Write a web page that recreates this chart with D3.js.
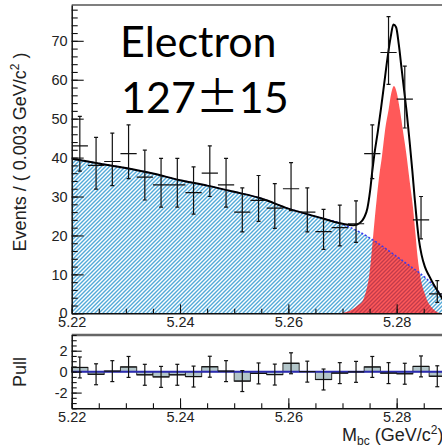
<!DOCTYPE html>
<html>
<head>
<meta charset="utf-8">
<script src="https://cdn.jsdelivr.net/npm/d3@7"></script>
<style>
  body { margin: 0; background: #fff; }
</style>
</head>
<body>
<script>
// Binned data: 23 bins of 0.003 GeV starting at 5.22
const binStart = 5.22;
const binWidth = 0.003;
const counts = [43, 38, 39, 41, 35, 33, 33, 31, 36, 33, 26, 29, 27, 32, 26, 21, 22, 23, 41, 67, 55, 24, 5];
const errLo = [6.5, 6.1, 6.2, 6.4, 5.9, 5.7, 5.7, 5.5, 6.0, 5.7, 5.1, 5.4, 5.2, 5.6, 5.1, 4.6, 4.7, 4.8, 6.4, 8.2, 7.4, 4.9, 2.2];
const errHi = [7.6, 7.2, 7.3, 7.4, 6.9, 6.8, 6.8, 6.6, 7.0, 6.8, 6.2, 6.4, 6.3, 6.7, 6.2, 5.7, 5.8, 5.9, 7.4, 9.2, 8.5, 6.0, 3.4];
const pulls = [0.4, -0.25, 0.05, 0.45, -0.3, -0.5, -0.3, -0.47, 0.47, 0.05, -0.9, -0.17, -0.28, 0.8, 0.0, -0.75, -0.14, -0.02, 0.45, -0.14, -0.2, 0.5, -0.44];

// Fit curves (mass, events)
const bkgM = [5.2200, 5.2250, 5.2300, 5.2350, 5.2400, 5.2450, 5.2500, 5.2550, 5.2600, 5.2650, 5.2700, 5.2730, 5.2760, 5.2790, 5.2820, 5.2840, 5.2855, 5.2867, 5.2877, 5.2884, 5.2888, 5.2890];
const bkgV = [39.7, 38.5, 37.3, 35.9, 34.2, 32.8, 31.2, 29.5, 26.9, 24.9, 22.9, 21.0, 18.5, 15.6, 12.6, 10.6, 8.9, 7.3, 5.6, 4.0, 2.3, 0];

const sigM = [5.2690, 5.2705, 5.2718, 5.2728, 5.2738, 5.2745, 5.2748, 5.2752, 5.2757, 5.2763, 5.2768, 5.2773, 5.2779, 5.2785, 5.2790, 5.2795, 5.2800, 5.2806, 5.2812, 5.2818, 5.2824, 5.2830, 5.2835, 5.2839, 5.2843, 5.2847, 5.2852, 5.2856, 5.2863, 5.2870, 5.2876, 5.2882];
const sigV = [0, 0.3, 1.0, 2.0, 3.4, 6.5, 8.5, 13.0, 20.5, 29.2, 35.5, 40.5, 47.5, 52.2, 56.5, 58.4, 56.8, 52.2, 46.5, 40.8, 34.0, 27.4, 20.0, 14.0, 10.0, 7.2, 5.0, 3.4, 1.8, 0.8, 0.2, 0];

const totM = [5.2200, 5.2250, 5.2300, 5.2350, 5.2400, 5.2450, 5.2500, 5.2550, 5.2600, 5.2650, 5.2700, 5.2720, 5.2732, 5.2740, 5.2746, 5.2751, 5.2755, 5.2759, 5.2765, 5.2771, 5.2777, 5.2783, 5.2789, 5.2794, 5.2799, 5.2804, 5.2809, 5.2814, 5.2819, 5.2824, 5.2829, 5.2833, 5.2837, 5.2841, 5.2846, 5.2852, 5.2860, 5.2870, 5.2878, 5.2884, 5.2888, 5.2890];
const totV = [39.7, 38.5, 37.3, 35.9, 34.2, 32.8, 31.2, 29.5, 26.9, 24.9, 23.0, 22.6, 23.2, 24.6, 27.0, 31.5, 36.5, 41.0, 46.5, 52.5, 59.0, 65.5, 71.0, 74.2, 73.5, 69.0, 63.0, 57.0, 51.0, 44.0, 36.5, 30.0, 24.0, 19.0, 15.0, 12.0, 9.6, 7.0, 5.2, 3.8, 2.2, 0];

// Axis ticks
const xTicks = [5.22, 5.24, 5.26, 5.28];
const xMinor = d3.range(5.22, 5.2891, 0.005);
const yTicks = [0, 10, 20, 30, 40, 50, 60, 70];
const yMinor = d3.range(0, 79, 2);
const pullTicks = [-2, 0, 2];
const pullMinor = d3.range(-3.5, 3.51, 0.5);

const width = 442;
const height = 448;
const left = 71.7;
const right = 445.4;
const top1 = 5, bottom1 = 313.3;
const top2 = 335, bottom2 = 408.3;

const svg = d3.select("body").append("svg")
  .attr("width", width)
  .attr("height", height)
  .style("font-family", "'Liberation Sans', Arial, sans-serif");

const x = d3.scaleLinear().domain([5.22, 5.289]).range([left, right]);
const y = d3.scaleLinear().domain([0, 79.2]).range([bottom1, top1]);
const yp = d3.scaleLinear().domain([-3.5, 3.5]).range([bottom2, top2]);

const defs = svg.append("defs");
const pat = defs.append("pattern")
  .attr("id", "hatch")
  .attr("patternUnits", "userSpaceOnUse")
  .attr("width", 4)
  .attr("height", 4);
pat.append("path")
  .attr("d", "M0,4 L4,0 M-1,1 L1,-1 M3,5 L5,3")
  .attr("stroke", "#52a9d8")
  .attr("stroke-width", 1.4);

defs.append("clipPath").attr("id", "clipTop")
  .append("rect")
  .attr("x", left).attr("y", top1)
  .attr("width", right - left).attr("height", bottom1 - top1);

const pts = (ms, vs) => ms.map((m, i) => [m, vs[i]]);
const centers = counts.map((c, i) => binStart + binWidth * (i + 0.5));

// ---- top panel ----
const plot = svg.append("g").attr("clip-path", "url(#clipTop)");

const area = d3.area()
  .x(d => x(d[0]))
  .y0(y(0))
  .y1(d => y(d[1]))
  .curve(d3.curveMonotoneX);
const line = d3.line()
  .x(d => x(d[0]))
  .y(d => y(d[1]))
  .curve(d3.curveMonotoneX);

plot.append("path")
  .attr("d", area(pts(bkgM, bkgV)))
  .attr("fill", "url(#hatch)");

plot.append("path")
  .attr("d", area(pts(sigM, sigV)))
  .attr("fill", "rgba(255,0,0,0.65)");

plot.append("path")
  .attr("d", line(pts(bkgM, bkgV)))
  .attr("fill", "none")
  .attr("stroke", "#3a3af0")
  .attr("stroke-width", 1.5)
  .attr("stroke-dasharray", "2,2");

plot.append("path")
  .attr("d", line(pts(totM, totV)))
  .attr("fill", "none")
  .attr("stroke", "#000")
  .attr("stroke-width", 2);

// data points
const dp = plot.append("g").attr("stroke", "#111").attr("stroke-width", 1.2);
counts.forEach((c, i) => {
  const cx = x(centers[i]);
  const x0 = x(centers[i] - binWidth / 2), x1 = x(centers[i] + binWidth / 2);
  const yc = y(c), yl = y(c - errLo[i]), yh = y(c + errHi[i]);
  dp.append("line").attr("x1", x0).attr("x2", x1).attr("y1", yc).attr("y2", yc);
  dp.append("line").attr("x1", cx).attr("x2", cx).attr("y1", yl).attr("y2", yh);
  dp.append("line").attr("x1", cx - 2).attr("x2", cx + 2).attr("y1", yl).attr("y2", yl);
  dp.append("line").attr("x1", cx - 2).attr("x2", cx + 2).attr("y1", yh).attr("y2", yh);
});

// frame top line
svg.append("line")
  .attr("x1", left).attr("x2", width).attr("y1", top1).attr("y2", top1)
  .attr("stroke", "#555").attr("stroke-width", 1.5);

// axes top
svg.append("g")
  .attr("transform", `translate(${left},0)`)
  .call(d3.axisLeft(y).tickValues(yTicks).tickSize(-12).tickSizeOuter(0).tickPadding(4));
svg.append("g")
  .attr("transform", `translate(${left},0)`)
  .call(d3.axisLeft(y).tickValues(yMinor).tickSize(-6).tickFormat("").tickSizeOuter(0))
  .select(".domain").remove();

svg.append("g")
  .attr("transform", `translate(0,${bottom1})`)
  .call(d3.axisBottom(x).tickValues(xTicks).tickSize(-9).tickSizeOuter(0).tickPadding(3).tickFormat(d3.format(".2f")));
svg.append("g")
  .attr("transform", `translate(0,${bottom1})`)
  .call(d3.axisBottom(x).tickValues(xMinor).tickSize(-4.5).tickFormat("").tickSizeOuter(0))
  .select(".domain").remove();

// ---- pull panel ----
const pull = svg.append("g");

pull.selectAll("rect.pull")
  .data(pulls)
  .join("rect")
  .attr("class", "pull")
  .attr("x", (d, i) => x(centers[i] - binWidth / 2))
  .attr("width", x(binStart + binWidth) - x(binStart))
  .attr("y", d => Math.min(yp(d), yp(0)))
  .attr("height", d => Math.abs(yp(d) - yp(0)))
  .attr("fill", "#b3c6ca")
  .attr("stroke", "#333")
  .attr("stroke-width", 1);

pull.append("line")
  .attr("x1", left).attr("x2", width)
  .attr("y1", yp(0)).attr("y2", yp(0))
  .attr("stroke", "#2b2bb0").attr("stroke-width", 2);

const pp = pull.append("g").attr("stroke", "#111").attr("stroke-width", 1.2);
pulls.forEach((p, i) => {
  const cx = x(centers[i]);
  const x0 = x(centers[i] - binWidth / 2), x1 = x(centers[i] + binWidth / 2);
  pp.append("line").attr("x1", x0).attr("x2", x1).attr("y1", yp(p)).attr("y2", yp(p));
  pp.append("line").attr("x1", cx).attr("x2", cx).attr("y1", yp(p - 1)).attr("y2", yp(p + 1));
  pp.append("line").attr("x1", cx - 2).attr("x2", cx + 2).attr("y1", yp(p - 1)).attr("y2", yp(p - 1));
  pp.append("line").attr("x1", cx - 2).attr("x2", cx + 2).attr("y1", yp(p + 1)).attr("y2", yp(p + 1));
});

svg.append("line")
  .attr("x1", left).attr("x2", width).attr("y1", top2).attr("y2", top2)
  .attr("stroke", "#666").attr("stroke-width", 2.5);

svg.append("g")
  .attr("transform", `translate(${left},0)`)
  .call(d3.axisLeft(yp).tickValues(pullTicks).tickSize(-10).tickSizeOuter(0).tickPadding(4).tickFormat(d => d === 0 ? "0" : String(d)));
svg.append("g")
  .attr("transform", `translate(${left},0)`)
  .call(d3.axisLeft(yp).tickValues(pullMinor).tickSize(-5).tickFormat("").tickSizeOuter(0))
  .select(".domain").remove();

svg.append("g")
  .attr("transform", `translate(0,${bottom2})`)
  .call(d3.axisBottom(x).tickValues(xTicks).tickSize(-10).tickSizeOuter(0).tickPadding(3).tickFormat(d3.format(".2f")));
svg.append("g")
  .attr("transform", `translate(0,${bottom2})`)
  .call(d3.axisBottom(x).tickValues(xMinor).tickSize(-5).tickFormat("").tickSizeOuter(0))
  .select(".domain").remove();

// axis styling
svg.selectAll(".tick text")
  .attr("font-size", 14.5)
  .attr("font-family", "'Liberation Sans', Arial, sans-serif")
  .attr("fill", "#222");
svg.selectAll(".tick line").attr("stroke", "#111").attr("stroke-width", 1.1);
svg.selectAll(".domain").attr("stroke", "#111").attr("stroke-width", 1.5);

// ---- titles ----
const yt = svg.append("text")
  .attr("transform", "translate(26,152) rotate(-90)")
  .attr("text-anchor", "middle")
  .attr("font-size", 18)
  .attr("fill", "#222");
yt.append("tspan").text("Events / ( 0.003 GeV/c");
yt.append("tspan").attr("font-size", 12).attr("dy", -7).text("2");
yt.append("tspan").attr("dy", 7).text(" )");

svg.append("text")
  .attr("transform", "translate(26,372) rotate(-90)")
  .attr("text-anchor", "middle")
  .attr("font-size", 18)
  .attr("fill", "#222")
  .text("Pull");

const xt = svg.append("text")
  .attr("x", 342).attr("y", 441)
  .attr("font-size", 18)
  .attr("fill", "#222");
xt.append("tspan").text("M");
xt.append("tspan").attr("font-size", 12).attr("dy", 4).text("bc");
xt.append("tspan").attr("dy", -4).text(" (GeV/c");
xt.append("tspan").attr("font-size", 12).attr("dy", -7).text("2");
xt.append("tspan").attr("dy", 7).text(")");

// ---- labels ----
svg.append("text")
  .attr("x", 120).attr("y", 57)
  .attr("font-family", "Lato, 'Open Sans', sans-serif")
  .attr("font-size", 43)
  .attr("fill", "#000")
  .text("Electron");

const yl = svg.append("text")
  .attr("x", 121).attr("y", 113)
  .attr("font-family", "Lato, 'Open Sans', sans-serif")
  .attr("font-size", 43)
  .attr("fill", "#000");
yl.append("tspan").text("127");
yl.append("tspan").attr("font-family", "'Noto Sans CJK JP'").text("\u00B1");
yl.append("tspan").text("15");
</script>
</body>
</html>
